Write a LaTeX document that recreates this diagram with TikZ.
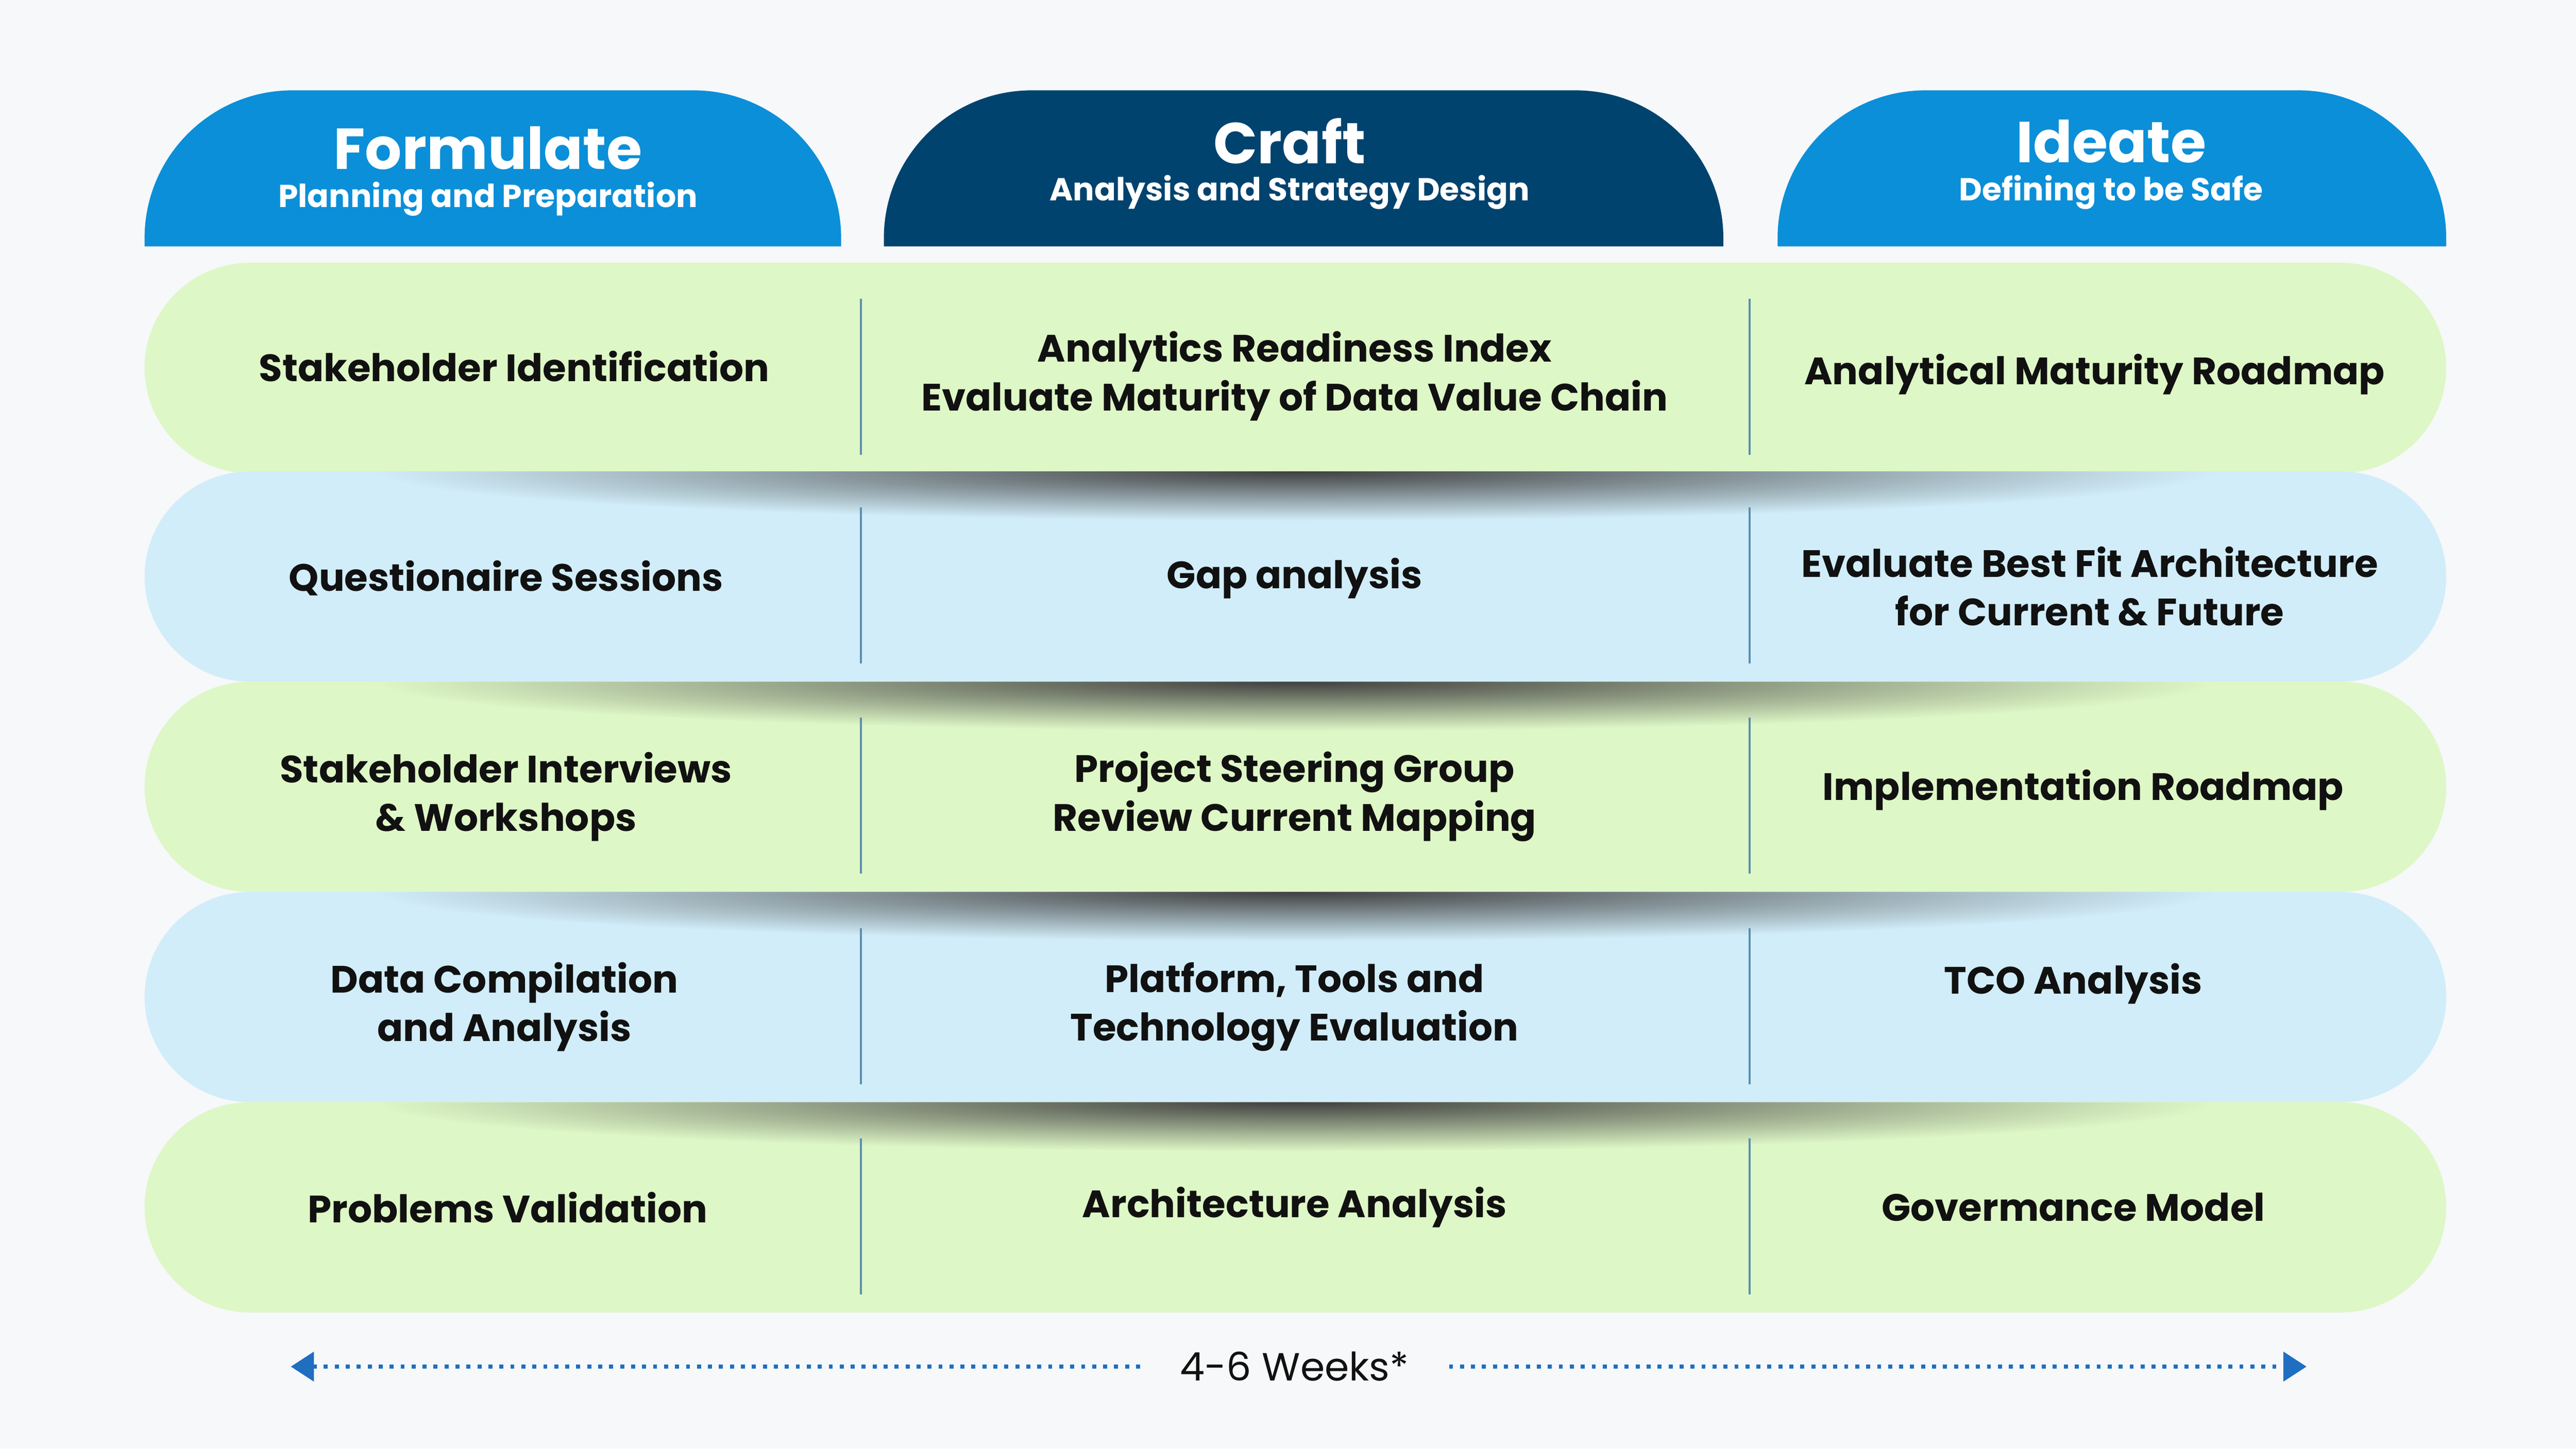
\documentclass[tikz,border=0pt]{standalone}
\usepackage{fontspec}
\setmainfont{Poppins}
\usetikzlibrary{arrows.meta}
\definecolor{bgcol}{HTML}{F6F8FA}
\definecolor{tabblue}{HTML}{0B8FD8}
\definecolor{tabnavy}{HTML}{00436E}
\definecolor{rowgreen}{HTML}{DEF7C6}
\definecolor{rowblue}{HTML}{D1EDF9}
\definecolor{divline}{HTML}{5B8FB0}
\definecolor{arrowblue}{HTML}{1F6FC0}
\definecolor{ink}{HTML}{111111}
\tikzset{
  celltext/.style={align=center,text=ink,font=\fontsize{6.6}{8.4}\selectfont\bfseries},
  tabtitle/.style={text=white,font=\fontsize{10}{12}\selectfont\bfseries},
  tabsub/.style={text=white,font=\fontsize{5.5}{7}\selectfont\bfseries},
  weekline/.style={arrowblue,line width=0.7pt,dash pattern=on 0.7pt off 1.2pt,-{Triangle[length=4pt,width=5pt]}},
}
\begin{document}
\begin{tikzpicture}[x=0.01cm,y=-0.01cm]
  \fill[bgcol] (0,0) rectangle (1568,882);
  \useasboundingbox (0,0) rectangle (1568,882);
  % header tabs
  \fill[tabblue] (88,150) [rounded corners=0.9cm] -- (88,55) -- (512,55) [sharp corners] -- (512,150) -- cycle;
  \fill[tabnavy] (538,150) [rounded corners=0.9cm] -- (538,55) -- (1049,55) [sharp corners] -- (1049,150) -- cycle;
  \fill[tabblue] (1082,150) [rounded corners=0.9cm] -- (1082,55) -- (1489,55) [sharp corners] -- (1489,150) -- cycle;
  \node[tabtitle] (formulate) at (297,90) {Formulate};
  \node[tabsub] (formulatesub) at (297,121) {Planning and Preparation};
  \node[tabtitle] (craft) at (785,86) {Craft};
  \node[tabsub] (craftsub) at (785,117) {Analysis and Strategy Design};
  \node[tabtitle] (ideate) at (1285,86) {Ideate};
  \node[tabsub] (ideatesub) at (1285,117) {Defining to be Safe};
  % rows
  \foreach \top/\col [count=\i] in {160/rowgreen,287/rowblue,415/rowgreen,543/rowblue,671/rowgreen}{
    \fill[\col,rounded corners=0.64cm] (88,\top) rectangle (1489,\top+128);
    \ifnum\i>1
      \begin{scope}
        \clip[rounded corners=0.64cm] (88,\top) rectangle (1489,\top+128);
        \shade[inner color=black!75,outer color=\col] (788,\top) ellipse [x radius=560,y radius=30];
      \end{scope}
    \fi
    \draw[divline,line width=0.4pt] (524,\top+22) -- (524,\top+117);
    \draw[divline,line width=0.4pt] (1065,\top+22) -- (1065,\top+117);
  }
  % cell texts
  \node[celltext] (stakeid) at (313,223) {Stakeholder Identification};
  \node[celltext] (readiness) at (788,229) {Analytics Readiness Index\\Evaluate Maturity of Data Value Chain};
  \node[celltext] (maturity) at (1275,228) {Analytical Maturity Roadmap};
  \node[celltext] (questions) at (308,352) {Questionaire Sessions};
  \node[celltext] (gap) at (788,352) {Gap analysis};
  \node[celltext] (bestfit) at (1272,357) {Evaluate Best Fit Architecture\\for Current \& Future};
  \node[celltext] (interviews) at (308,485) {Stakeholder Interviews\\\& Workshops};
  \node[celltext] (steering) at (788,485) {Project Steering Group\\Review Current Mapping};
  \node[celltext] (implroad) at (1268,481) {Implementation Roadmap};
  \node[celltext] (datacomp) at (307,613) {Data Compilation\\and Analysis};
  \node[celltext] (platform) at (788,613) {Platform, Tools and\\Technology Evaluation};
  \node[celltext] (tco) at (1262,599) {TCO Analysis};
  \node[celltext] (problems) at (309,735) {Problems Validation};
  \node[celltext] (archan) at (788,735) {Architecture Analysis};
  \node[celltext] (govmodel) at (1262,735) {Govermance Model};
  % duration
  \node[text=ink,font=\fontsize{6.8}{8}\selectfont] (weeks) at (788,832) {4-6 Weeks*};
  \coordinate (wstart) at (177,832);
  \coordinate (wend) at (1404,832);
  \draw[weekline] (weeks.west) ++(-12,0) -- (wstart);
  \draw[weekline] (weeks.east) ++(12,0) -- (wend);
\end{tikzpicture}
\end{document}
